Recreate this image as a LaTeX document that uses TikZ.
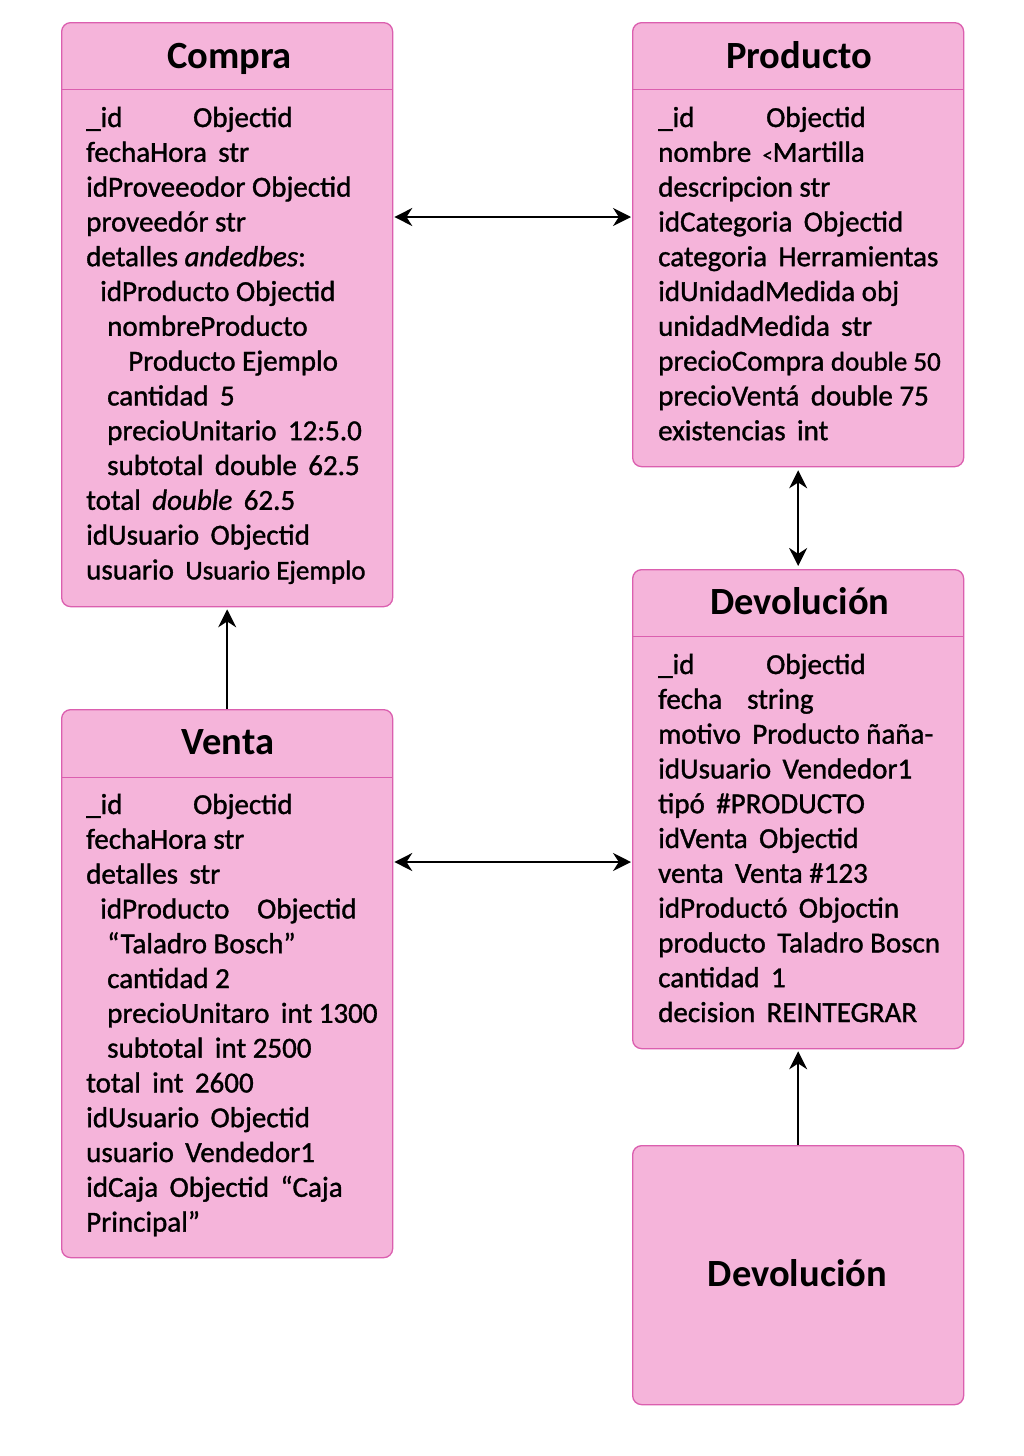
\documentclass[tikz,border=0pt]{standalone}
\usepackage{fontspec}
\setmainfont{Carlito}
\newfontfamily\bodyfont{Carlito}[FakeBold=1.2]
\usetikzlibrary{arrows.meta}
\definecolor{boxfill}{HTML}{F5B4DA}
\definecolor{boxline}{HTML}{DB5FAF}
\tikzset{
  entity/.style={draw=boxline, line width=1.3pt, fill=boxfill, rounded corners=9pt, inner sep=0pt, anchor=north west},
  etitle/.style={font=\fontsize{38.5}{40}\selectfont\bfseries, inner sep=0pt, anchor=base},
  erow/.style={font=\bodyfont\fontsize{29}{32}\selectfont, anchor=base west, inner sep=0pt},
  divider/.style={draw=boxline, line width=1pt},
  link/.style={line width=2pt, {Stealth[length=18pt,width=18pt]}-{Stealth[length=18pt,width=18pt]}},
  onelink/.style={line width=2pt, -{Stealth[length=18pt,width=18pt]}}
}
\newcommand\rowlist[4]{%
  \foreach \rowtext [count=\i] in {#4} {%
    \node[erow] (#1-\i) at (#2, {#3+34.8*(\i-1)}) {\rowtext};
  }%
}
\newcommand\smallpart[1]{{\fontsize{27}{30}\selectfont #1}}
\begin{document}
\begin{tikzpicture}[x=1pt, y=-1pt]
\useasboundingbox[fill=white] (0,0) rectangle (1024,1456);

% boxes
\node[entity, minimum width=331pt, minimum height=584pt] (compra) at (61,22) {};
\node[entity, minimum width=331pt, minimum height=444pt] (producto) at (632,22) {};
\node[entity, minimum width=331pt, minimum height=479pt] (devol) at (632,569) {};
\node[entity, minimum width=331pt, minimum height=548pt] (venta) at (61,709) {};
\node[entity, minimum width=331pt, minimum height=259pt] (devol2) at (632,1145) {};

% dividers
\draw[divider] (compra.west |- 0,89) -- (compra.east |- 0,89);
\draw[divider] (producto.west |- 0,89) -- (producto.east |- 0,89);
\draw[divider] (devol.west |- 0,636) -- (devol.east |- 0,636);
\draw[divider] (venta.west |- 0,777) -- (venta.east |- 0,777);

% titles
\node[etitle] (compra-t) at (229.5,68) {Compra};
\node[etitle] (producto-t) at (799,68) {Producto};
\node[etitle] (devol-t) at (800,614) {Devolución};
\node[etitle] (venta-t) at (228,754) {Venta};
\node[etitle] (devol2-t) at (797.5,1286) {Devolución};

% rows
\rowlist{cr}{86}{127}{
  {\makebox[107pt][l]{\_id}Objectid},
  {fechaHora\, str},
  {idProveeodor Objectid},
  {proveedór str},
  {detalles \textit{andedbes}:},
  {\hspace*{14pt}idProducto Objectid},
  {\hspace*{21pt}nombreProducto},
  {\hspace*{42pt}Producto Ejemplo},
  {\hspace*{21pt}cantidad\, 5},
  {\hspace*{21pt}precioUnitario\, 12:5.0},
  {\hspace*{21pt}subtotal\, double\, 62.5},
  {total\, \textit{double}\, 62.5},
  {idUsuario\, Objectid},
  {usuario\, \smallpart{Usuario Ejemplo}}}

\rowlist{pr}{658}{127}{
  {\makebox[108pt][l]{\_id}Objectid},
  {nombre\, {\fontsize{20}{20}\selectfont<}Martilla},
  {descripcion str},
  {idCategoria\, Objectid},
  {categoria\, Herramientas},
  {idUnidadMedida obj},
  {unidadMedida\, str},
  {precioCompra \smallpart{double 50}},
  {precioVentá\, double 75},
  {existencias\, int}}

\rowlist{dr}{658}{674}{
  {\makebox[108pt][l]{\_id}Objectid},
  {\makebox[89pt][l]{fecha}string},
  {motivo\, Producto ñaña-},
  {idUsuario\, Vendedor1},
  {tipó\, \#PRODUCTO},
  {idVenta\, Objectid},
  {venta\, Venta \#123},
  {idProductó\, Objoctin},
  {producto\, Taladro Boscn},
  {cantidad\, 1},
  {decision\, REINTEGRAR}}

\rowlist{vr}{86}{814}{
  {\makebox[107pt][l]{\_id}Objectid},
  {fechaHora str},
  {detalles\, str},
  {\hspace*{14pt}\makebox[157pt][l]{idProducto}Objectid},
  {\hspace*{21pt}“Taladro Bosch”},
  {\hspace*{21pt}cantidad 2},
  {\hspace*{21pt}precioUnitaro\, int 1300},
  {\hspace*{21pt}subtotal\, int 2500},
  {total\, int\, 2600},
  {idUsuario\, Objectid},
  {usuario\, Vendedor1},
  {idCaja\, Objectid\, “Caja},
  {Principal”}}

% connectors
\draw[link] ([xshift=1pt]compra.east |- 0,217) -- ([xshift=-1pt]producto.west |- 0,217);
\draw[link] ([xshift=1pt]venta.east |- 0,862) -- ([xshift=-1pt]devol.west |- 0,862);
\draw[link] ([yshift=-3pt]producto.south) -- ([yshift=3pt]devol.north);
\draw[onelink] (venta.north) -- ([yshift=-2pt]compra.south);
\draw[onelink] (devol2.north) -- ([yshift=-2pt]devol.south);
\end{tikzpicture}
\end{document}
